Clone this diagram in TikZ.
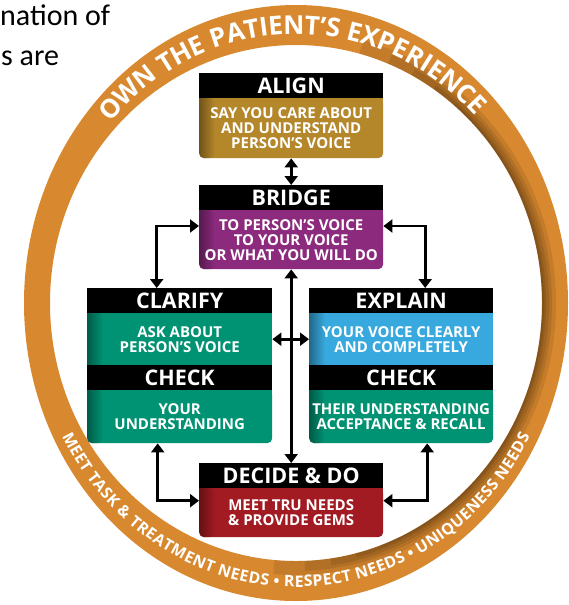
\documentclass[tikz,border=0pt]{standalone}
\usepackage{fontspec}
\setmainfont{Open Sans}
\newfontfamily\notefont{Carlito}
\usetikzlibrary{arrows.meta,decorations.text,fadings}

\definecolor{ringorange}{HTML}{D8892F}
\definecolor{aligngold}{HTML}{B5872B}
\definecolor{bridgepurple}{HTML}{8C2A7E}
\definecolor{stepgreen}{HTML}{009373}
\definecolor{explainblue}{HTML}{37A9DE}
\definecolor{decidered}{HTML}{A21B22}

\newcommand\hdrtype{\fontsize{21.5}{21.5}\selectfont\bfseries}
\newcommand\bodytype{\fontsize{15}{15}\selectfont\bfseries}
\newcommand\ringtoptype{\fontsize{26}{26}\selectfont\bfseries\color{white}}
\newcommand\ringbottype{\fontsize{15.8}{15.8}\selectfont\bfseries\color{white}}

\tikzset{
  hdr/.style={fill=black, text=white, font=\hdrtype, inner sep=0pt,
    anchor=north west, minimum height=25pt},
  stepbody/.style={text=white, font=\bodytype, align=center, inner sep=0pt,
    anchor=north west},
  roundbody/.style={stepbody, rounded corners=5pt},
  bodytext/.style={font=\bodytype, text=white, align=center},
  link/.style={line width=2.6pt,
    {Triangle[length=9pt,width=13pt]}-{Triangle[length=9pt,width=13pt]}},
}

% square off the top corners of a body that sits under a header
\newcommand\squaretop[2]{\fill[#2] (#1.north west) rectangle ([yshift=-6pt]#1.north east);}
% darker band along the left edge of a body
\newcommand\leftshade[1]{\fill[black, opacity=.38, path fading=east, rounded corners=5pt]
  ([xshift=16pt]#1.north west) [sharp corners]-- (#1.north west) [rounded corners=5pt]--
  (#1.south west) -- ([xshift=16pt]#1.south west) -- cycle;}
\newcommand\leftshadesq[1]{\fill[black, opacity=.38, path fading=east]
  (#1.north west) rectangle ([xshift=16pt]#1.south west);}

\begin{document}
\begin{tikzpicture}[x=1pt,y=1pt]
\useasboundingbox (0,0) rectangle (569,-605);

% running text at the top left
\node[font=\notefont\fontsize{30}{30}\selectfont, anchor=base west, inner sep=0pt] (note1) at (0,-25) {nation of};
\node[font=\notefont\fontsize{30}{30}\selectfont, anchor=base west, inner sep=0pt] (note2) at (1,-65) {s are};

% orange ring
\fill[ringorange, even odd rule]
  (296,-303) ellipse[x radius=272, y radius=298]
  (296,-303) ellipse[x radius=246, y radius=258];
% soft shade along the inner right and lower edge of the ring
\foreach \w/\a/\b in {14/-95/75, 10/-88/68, 7/-82/62, 4/-76/56, 2/-70/50}
  \draw[black, opacity=.09, line width=\w pt]
    (296,-303) ++(\a:246+\w/2 and 258+\w/2)
    arc[start angle=\a, end angle=\b, x radius=246+\w/2, y radius=258+\w/2];

% ring lettering
\path[decorate, decoration={text along path, text align=fit to path, raise=-9pt,
  text={|\ringtoptype|OWN THE PATIENT’S EXPERIENCE}}]
  (296,-303) ++(138:259 and 278) arc[start angle=138, end angle=44, x radius=259, y radius=278];
\path[decorate, decoration={text along path, text align=fit to path, raise=-6pt,
  text={|\ringbottype|MEET TASK {\&} TREATMENT NEEDS {•} RESPECT NEEDS {•} UNIQUENESS NEEDS}}]
  (296,-303) ++(208:259 and 278) arc[start angle=208, end angle=332, x radius=259, y radius=278];

% ALIGN
\node[hdr, minimum width=184pt] (alignH) at (199,-73) {ALIGN};
\node[roundbody, fill=aligngold, minimum width=184pt, minimum height=60pt] (alignB) at (199,-98) {};
\squaretop{alignB}{aligngold}
\leftshade{alignB}
\node[bodytext] (alignT) at (alignB) {SAY YOU CARE ABOUT\\AND UNDERSTAND\\PERSON’S VOICE};

% BRIDGE
\node[hdr, minimum width=184pt] (bridgeH) at (199,-185) {BRIDGE};
\node[roundbody, fill=bridgepurple, minimum width=184pt, minimum height=59pt] (bridgeB) at (199,-210) {};
\squaretop{bridgeB}{bridgepurple}
\leftshade{bridgeB}
\node[bodytext] (bridgeT) at (bridgeB) {TO PERSON’S VOICE\\TO YOUR VOICE\\OR WHAT YOU WILL DO};

% CLARIFY / CHECK
\node[hdr, minimum width=185pt] (clarH) at (87,-288) {CLARIFY};
\node[stepbody, fill=stepgreen, minimum width=185pt, minimum height=52pt] (clarB) at (87,-313) {};
\leftshadesq{clarB}
\node[bodytext] (clarT) at (clarB) {ASK ABOUT\\PERSON’S VOICE};
\node[hdr, minimum width=185pt] (clarCH) at (87,-365) {CHECK};
\node[roundbody, fill=stepgreen, minimum width=185pt, minimum height=53pt] (clarCB) at (87,-390) {};
\squaretop{clarCB}{stepgreen}
\leftshade{clarCB}
\node[bodytext] (clarCT) at (clarCB) {YOUR\\UNDERSTANDING};

% EXPLAIN / CHECK
\node[hdr, minimum width=184pt] (explH) at (309,-288) {EXPLAIN};
\node[stepbody, fill=explainblue, minimum width=184pt, minimum height=52pt] (explB) at (309,-313) {};
\leftshadesq{explB}
\node[bodytext] (explT) at (explB) {YOUR VOICE CLEARLY\\AND COMPLETELY};
\node[hdr, minimum width=184pt] (explCH) at (309,-365) {CHECK};
\node[roundbody, fill=stepgreen, minimum width=184pt, minimum height=53pt] (explCB) at (309,-390) {};
\squaretop{explCB}{stepgreen}
\leftshade{explCB}
\node[bodytext] (explCT) at (explCB) {THEIR UNDERSTANDING\\ACCEPTANCE \& RECALL};

% DECIDE & DO
\node[hdr, minimum width=184pt] (decH) at (199,-463) {DECIDE \& DO};
\node[roundbody, fill=decidered, minimum width=184pt, minimum height=49pt] (decB) at (199,-488) {};
\squaretop{decB}{decidered}
\leftshade{decB}
\node[bodytext] (decT) at (decB) {MEET TRU NEEDS\\\& PROVIDE GEMS};

% connectors
\draw[link] (alignB.south) -- (bridgeH.north);
\draw[link] (bridgeB.south) -- (decH.north);
\draw[link] ([yshift=-16pt]bridgeB.north west) -| ([xshift=-23pt]clarH.north);
\draw[link] ([yshift=-16pt]bridgeB.north east) -| ([xshift=24pt]explH.north);
\draw[link] (clarB.east) -- (explB.west);
\draw[link] ([xshift=-22pt]clarCB.south) |- ([yshift=12pt]decB.west);
\draw[link] ([xshift=26pt]explCB.south) |- ([yshift=12pt]decB.east);
\end{tikzpicture}
\end{document}
